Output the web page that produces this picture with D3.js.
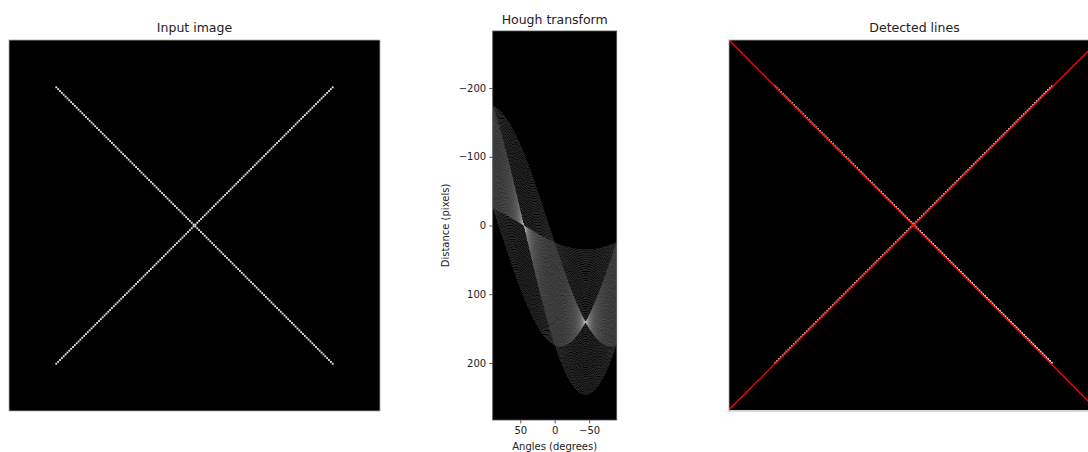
<!DOCTYPE html>
<html>
<head>
<meta charset="utf-8">
<script src="https://cdn.jsdelivr.net/npm/d3@7"></script>
<style>
  html, body { margin: 0; padding: 0; background: #fff; }
  svg { display: block; font-family: "DejaVu Sans", sans-serif; }
</style>
</head>
<body>
<svg id="chart" width="1088" height="452"></svg>
<script>
// Input image: 200x200, two diagonal lines drawn on pixels 25..174
const imageSize = 200;
const lineStart = 25;
const lineEnd = 175;           // exclusive, like np.arange(25, 175)
// Hough transform settings
const numAngles = 180;         // angles from -90 to 90 deg
// Peaks (angle in degrees, distance in pixels)
const peakAngles = [-44.85, 45.05];
const peakDists = [0, 141];
// Tick labels
const houghXTicks = [50, 0, -50];
const houghYTicks = [-200, -100, 0, 100, 200];
const titles = ['Input image', 'Hough transform', 'Detected lines'];

const svg = d3.select('#chart');
const defs = svg.append('defs');
const fmt = v => (v < 0 ? '\u2212' + Math.abs(v) : String(v));

// Build pixel list of the input image
const idx = d3.range(lineStart, lineEnd);
const pixels = [];
idx.forEach(i => pixels.push({ row: i, col: i }));
idx.forEach((i, k) => pixels.push({ row: idx[idx.length - 1 - k], col: i }));

// ---------- Panel 1: input image ----------
const p1 = { x0: 9, x1: 380, y0: 40, y1: 411 };
const x1s = d3.scaleLinear().domain([-0.5, imageSize - 0.5]).range([p1.x0, p1.x1]);
const y1s = d3.scaleLinear().domain([-0.5, imageSize - 0.5]).range([p1.y0, p1.y1]);
const g1 = svg.append('g');
g1.append('rect')
  .attr('x', p1.x0).attr('y', p1.y0)
  .attr('width', p1.x1 - p1.x0).attr('height', p1.y1 - p1.y0)
  .attr('fill', '#000').attr('stroke', '#aaa').attr('stroke-width', 0.8);
g1.selectAll('rect.px').data(pixels).join('rect')
  .attr('class', 'px')
  .attr('x', d => x1s(d.col - 0.5)).attr('y', d => y1s(d.row - 0.5))
  .attr('width', x1s(1) - x1s(0)).attr('height', y1s(1) - y1s(0))
  .attr('fill', '#e6e6e6');
g1.append('text')
  .attr('x', (p1.x0 + p1.x1) / 2).attr('y', 32)
  .attr('text-anchor', 'middle').attr('font-size', 12.5).attr('fill', '#222')
  .text(titles[0]);

// ---------- Hough accumulator ----------
const offset = Math.ceil(Math.sqrt(imageSize * imageSize * 2));
const nDist = 2 * offset + 1;
const thetas = d3.range(numAngles).map(j => -Math.PI / 2 + j * Math.PI / (numAngles - 1));
const accum = new Float64Array(nDist * numAngles);
pixels.forEach(p => {
  thetas.forEach((t, j) => {
    const r = Math.round(Math.cos(t) * p.col + Math.sin(t) * p.row) + offset;
    accum[r * numAngles + j] += 1;
  });
});
let maxLog = 0;
const logAcc = accum.map(v => { const l = Math.log(1 + v); if (l > maxLog) maxLog = l; return l; });
const canvas = document.createElement('canvas');
canvas.width = numAngles; canvas.height = nDist;
const ctx = canvas.getContext('2d');
const imgData = ctx.createImageData(numAngles, nDist);
for (let i = 0; i < logAcc.length; i++) {
  const g = Math.round(255 * logAcc[i] / maxLog);
  imgData.data[i * 4] = g; imgData.data[i * 4 + 1] = g; imgData.data[i * 4 + 2] = g;
  imgData.data[i * 4 + 3] = 255;
}
ctx.putImageData(imgData, 0, 0);

// ---------- Panel 2: Hough transform ----------
const p2 = { x0: 492.7, x1: 616.7, y0: 31, y1: 420 };
const x2s = d3.scaleLinear().domain([90, -90]).range([p2.x0, p2.x1]);
const y2s = d3.scaleLinear().domain([-offset, offset]).range([p2.y0, p2.y1]);
const g2 = svg.append('g');
g2.append('image')
  .attr('href', canvas.toDataURL())
  .attr('x', x2s(90)).attr('y', y2s(-offset))
  .attr('width', x2s(-90) - x2s(90)).attr('height', y2s(offset) - y2s(-offset))
  .attr('preserveAspectRatio', 'none');

const xAxis = d3.axisBottom(x2s).tickValues(houghXTicks).tickFormat(fmt).tickSizeInner(3.5).tickSizeOuter(0).tickPadding(3);
const yAxis = d3.axisLeft(y2s).tickValues(houghYTicks).tickFormat(fmt).tickSizeInner(3.5).tickSizeOuter(0).tickPadding(3);
const gx = g2.append('g').attr('transform', `translate(0,${p2.y1})`).call(xAxis);
const gy = g2.append('g').attr('transform', `translate(${p2.x0},0)`).call(yAxis);
[gx, gy].forEach(a => {
  a.select('.domain').remove();
  a.selectAll('line').attr('stroke', '#333').attr('stroke-width', 0.8);
  a.selectAll('text').attr('font-size', 10).attr('fill', '#222').attr('font-family', 'DejaVu Sans');
});
g2.append('rect')
  .attr('x', p2.x0).attr('y', p2.y0)
  .attr('width', p2.x1 - p2.x0).attr('height', p2.y1 - p2.y0)
  .attr('fill', 'none').attr('stroke', '#555').attr('stroke-width', 0.8);
g2.append('text')
  .attr('x', (p2.x0 + p2.x1) / 2).attr('y', 24)
  .attr('text-anchor', 'middle').attr('font-size', 12.5).attr('fill', '#222')
  .text(titles[1]);
g2.append('text')
  .attr('x', (p2.x0 + p2.x1) / 2).attr('y', 450)
  .attr('text-anchor', 'middle').attr('font-size', 10).attr('fill', '#222')
  .text('Angles (degrees)');
g2.append('text')
  .attr('transform', `translate(449,${(p2.y0 + p2.y1) / 2}) rotate(-90)`)
  .attr('text-anchor', 'middle').attr('font-size', 10).attr('fill', '#222')
  .text('Distance (pixels)');

// ---------- Panel 3: detected lines ----------
const p3 = { x0: 729, x1: 1100, y0: 40, y1: 411 };
const x3s = d3.scaleLinear().domain([0, imageSize]).range([p3.x0, p3.x1]);
const y3s = d3.scaleLinear().domain([0, imageSize]).range([p3.y0, p3.y1]);
defs.append('clipPath').attr('id', 'clip3').append('rect')
  .attr('x', p3.x0).attr('y', p3.y0)
  .attr('width', p3.x1 - p3.x0).attr('height', p3.y1 - p3.y0);
const g3 = svg.append('g');
const g3c = g3.append('g').attr('clip-path', 'url(#clip3)');
g3c.append('rect')
  .attr('x', x3s(-0.5)).attr('y', y3s(-0.5))
  .attr('width', x3s(imageSize - 0.5) - x3s(-0.5)).attr('height', y3s(imageSize - 0.5) - y3s(-0.5))
  .attr('fill', '#000');
g3c.selectAll('rect.px').data(pixels).join('rect')
  .attr('class', 'px')
  .attr('x', d => x3s(d.col - 0.5)).attr('y', d => y3s(d.row - 0.5))
  .attr('width', x3s(1) - x3s(0)).attr('height', y3s(1) - y3s(0))
  .attr('fill', '#e6e6e6');
const detected = peakAngles.map((a, i) => {
  const t = a * Math.PI / 180, dist = peakDists[i];
  return {
    xa: 0, ya: (dist - 0 * Math.cos(t)) / Math.sin(t),
    xb: imageSize, yb: (dist - imageSize * Math.cos(t)) / Math.sin(t)
  };
});
g3c.selectAll('line.det').data(detected).join('line')
  .attr('class', 'det')
  .attr('x1', d => x3s(d.xa)).attr('y1', d => y3s(d.ya))
  .attr('x2', d => x3s(d.xb)).attr('y2', d => y3s(d.yb))
  .attr('stroke', '#ff0000').attr('stroke-width', 1.4);
g3.append('rect')
  .attr('x', p3.x0).attr('y', p3.y0)
  .attr('width', p3.x1 - p3.x0).attr('height', p3.y1 - p3.y0)
  .attr('fill', 'none').attr('stroke', '#aaa').attr('stroke-width', 0.8);
g3.append('text')
  .attr('x', (p3.x0 + p3.x1) / 2).attr('y', 32)
  .attr('text-anchor', 'middle').attr('font-size', 12.5).attr('fill', '#222')
  .text(titles[2]);
</script>
</body>
</html>
